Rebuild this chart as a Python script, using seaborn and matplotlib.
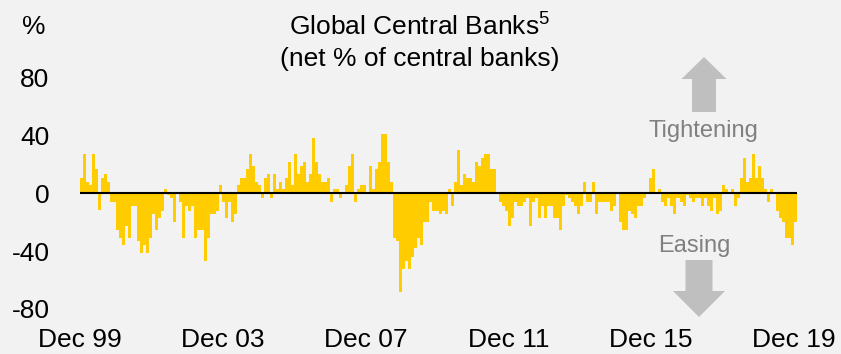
import numpy as np
import pandas as pd
import matplotlib
matplotlib.use("Agg")
import matplotlib.pyplot as plt
import matplotlib.patches as mpatches
import seaborn as sns

# net % of central banks tightening (monthly, Dec 99 -> Dec 19)
net_pct = [
    11, 27.5, 8, 6, 27.5, 17, -11.5, 11, 13.6, 8, -6, -6, -25, -31, -36, -22.6, -31, -9, -9, -33,
    -41.5, -36, -41.5, -31, -14.5, -25, -17, -12, 3, -1, -3, -20, 0, -6, -31, -9, -12, -9, -31,
    -25, -25, -47, -31, -14.5, -14.5, -12, 5.5, -6, -17, -6, -20, -14.5, 5.5, 11, 11, 17, 27.5, 19, 8,
    5.5, -3, 11, 13.6, -3, 13.6, 3, 8, 3, 11, 21.7, 6, 27.5, 13.6, 19, 21.7, 8, 13.6, 38, 21.7,
    13.6, 8, 8, 11, -6, 3, 3, -3, 0, 5.5, 19, 27.5, -6, 3, 5.5, 5.5, 0, 19, 3, 17,
    21.7, 41, 41, 21.7, 8, -31, -33, -68, -52, -47, -52, -44, -38, -31, -36, -20, -20, -6, -12, -12,
    -14.5, -12, -14.5, 3, -9, 8, 30, 5.5, 13.6, 11, 11, 8, 21.7, 19, 24.5, 27.5, 27.5, 17, 17, 0,
    -6, -9, -12, -22.6, -17, -6, -9, -9, -6, -3, -22.6, -6, -3, -17, -9, -17, -9, -9, -17,
    -17, -25, -9, -1, -3, -6, -9, -14.5, -9, 8, -6, -6, 8, -14.5, -6, -6, -6, -6, -12, -9,
    0, -20, -25, -25, -12, -14.5, -17, -9, -9, -3, 0, 11, 17, 0, 3, -6, -9, -3, -9, -14.5, -3,
    -6, -9, -1, -3, -6, -3, -3, -9, -3, -9, -12, -3, -14.5, -12, 5.5, 3, 0, 3, -9, -3,
    11, 24.5, 8, 11, 27.5, 11, 19, 11, 3, -6, 3, 0, -12, -17, -20, -31, -31, -36, -20,
]
tick_labels = ["Dec 99", "Dec 03", "Dec 07", "Dec 11", "Dec 15", "Dec 19"]
y_ticks = [-80, -40, 0, 40, 80]

df = pd.DataFrame({"month": np.arange(len(net_pct)), "net": net_pct})

sns.set_style("white")
plt.rcParams["font.family"] = ["Liberation Sans", "DejaVu Sans"]
plt.rcParams["text.color"] = "black"
plt.rcParams["mathtext.fontset"] = "custom"
plt.rcParams["mathtext.rm"] = "Liberation Sans"

bg = "#f2f2f2"
fig = plt.figure(figsize=(8.41, 3.54), dpi=100, facecolor=bg)
ax = fig.add_axes([80 / 841, 45 / 354, 717 / 841, 289 / 354])
ax.set_facecolor(bg)

sns.barplot(data=df, x="month", y="net", color="#FFCC00", saturation=1,
            width=1.0, linewidth=0, ax=ax)
ax.axhline(0, color="black", lw=1.5, zorder=5)

n = len(net_pct)
ax.set_xlim(-0.5, n - 0.5)
ax.set_ylim(-80, 120)
ax.set_xticks(np.linspace(-0.5, n - 1.5, len(tick_labels)))
ax.set_xticklabels(tick_labels, fontsize=19)
ax.set_yticks(y_ticks)
ax.set_yticklabels([str(v) for v in y_ticks], fontsize=19)
ax.tick_params(axis="x", length=0, pad=14, labelcolor="black")
ax.tick_params(axis="y", length=0, pad=22, labelcolor="black")
ax.set_xlabel("")
ax.set_ylabel("")
sns.despine(ax=ax, left=True, bottom=True)

fig.text(22 / 841, 1 - 27 / 354, "%", fontsize=19, ha="left", va="center", color="black")
fig.text(420 / 841, 1 - 26 / 354, r"Global Central Banks$^{\mathrm{5}}$", fontsize=19,
         ha="center", va="center", color="black")
fig.text(420 / 841, 1 - 59 / 354, "(net % of central banks)", fontsize=19,
         ha="center", va="center", color="black")

fig.text(703 / 841, 1 - 131 / 354, "Tightening", fontsize=17, color="#808080", ha="center", va="center")
fig.text(694 / 841, 1 - 246 / 354, "Easing", fontsize=17, color="#808080", ha="center", va="center")

arrow_col = "#bfbfbf"
up = mpatches.FancyArrow(7.04, (354 - 112) / 100, 0, 0.55, width=0.24, head_width=0.45,
                         head_length=0.22, length_includes_head=True,
                         transform=fig.dpi_scale_trans, color=arrow_col, lw=0)
down = mpatches.FancyArrow(6.99, (354 - 260) / 100, 0, -0.57, width=0.27, head_width=0.52,
                           head_length=0.26, length_includes_head=True,
                           transform=fig.dpi_scale_trans, color=arrow_col, lw=0)
fig.patches.extend([up, down])

fig.savefig("out.png", dpi=100, facecolor=bg)
